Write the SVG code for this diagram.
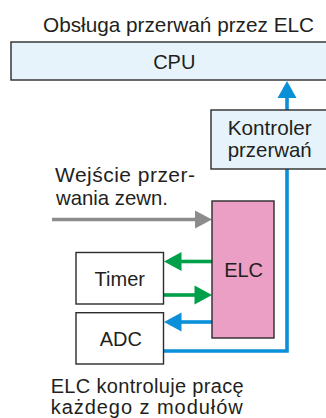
<svg xmlns="http://www.w3.org/2000/svg" width="326" height="418" viewBox="0 0 326 418">
<style>
text{font-family:"Liberation Sans",Arial,sans-serif;font-size:20px;fill:#231f20}
.lg{font-size:21px}
.box{stroke:#2b2b2b;stroke-width:1.4}
.blue{fill:#e6f3fb}
.white{fill:#ffffff}
.pink{fill:#eb9fc5}
.ln{fill:none;stroke-width:3.6}
.g{stroke:#8c8c8c}
.gr{stroke:#00a04a}
.b{stroke:#0a8fd9}
.ah-g{fill:#8c8c8c}
.ah-gr{fill:#00a04a}
.ah-b{fill:#0a8fd9}
.c{text-anchor:middle}
</style>
<rect width="326" height="418" fill="#ffffff"/>
<text class="lg" x="43" y="31.5" textLength="271" lengthAdjust="spacingAndGlyphs">Obsługa przerwań przez ELC</text>
<g id="connectors">
<path class="ln g" d="M52,219.5 H197"/>
<polygon class="ah-g" points="195,210.5 212,219.5 195,228.5"/>
<path class="ln gr" d="M212,261.5 H180"/>
<polygon class="ah-gr" points="181.5,252 164,261.5 181.5,271"/>
<path class="ln gr" d="M164,295 H196"/>
<polygon class="ah-gr" points="194.5,285.5 212,295 194.5,304.5"/>
<path class="ln b" d="M212,322 H180"/>
<polygon class="ah-b" points="181.5,312.5 164,322 181.5,331.5"/>
<path class="ln b" d="M164,351 H287 V96"/>
<polygon class="ah-b" points="277.5,98 287,81 296.5,98"/>
</g>
<g id="cpu">
<rect class="box blue" x="11" y="42" width="330" height="38"/>
<text class="c" x="174.3" y="69">CPU</text>
</g>
<g id="kontroler">
<rect class="box blue" x="211" y="110" width="130" height="59"/>
<text class="lg" x="227.7" y="135" textLength="84" lengthAdjust="spacingAndGlyphs">Kontroler</text>
<text class="lg" x="227.7" y="157" textLength="84" lengthAdjust="spacingAndGlyphs">przerwań</text>
</g>
<g id="wejscie">
<text class="lg" x="55" y="182" textLength="140" lengthAdjust="spacing">Wejście przer-</text>
<text class="lg" x="56" y="205" textLength="112" lengthAdjust="spacingAndGlyphs">wania zewn.</text>
</g>
<g id="elc">
<rect class="box pink" x="212" y="201" width="62" height="137"/>
<text class="c" x="243.6" y="277.3">ELC</text>
</g>
<g id="timer">
<rect class="box white" x="76" y="252.5" width="87.5" height="51.5"/>
<text class="c" x="119.8" y="285.7">Timer</text>
</g>
<g id="adc">
<rect class="box white" x="76" y="312.7" width="87.5" height="51.3"/>
<text class="c" x="120.8" y="346">ADC</text>
</g>
<g id="note">
<text x="50.7" y="392.5" textLength="193" lengthAdjust="spacing">ELC kontroluje pracę</text>
<text x="50.7" y="413.5" textLength="192" lengthAdjust="spacing">każdego z modułów</text>
</g>
</svg>
